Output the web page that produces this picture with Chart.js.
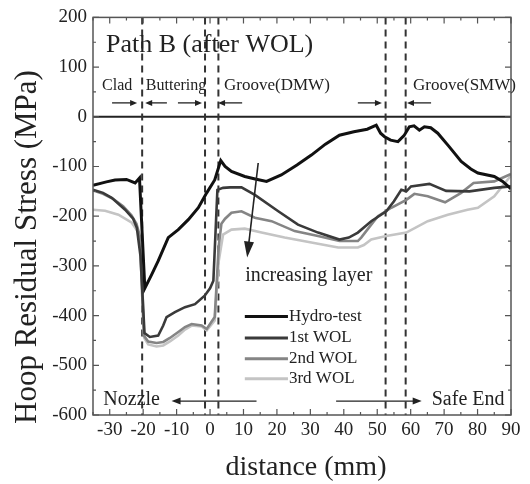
<!DOCTYPE html>
<html>
<head>
<meta charset="utf-8">
<script src="https://cdn.jsdelivr.net/npm/chart.js@4.4.1/dist/chart.umd.min.js"></script>
<style>
html, body { margin: 0; padding: 0; background: #fff; }
#wrap { width: 530px; height: 484px; position: relative; }
</style>
</head>
<body>
<div id="wrap"><canvas id="chart"></canvas></div>
<script>
// distance (mm) and hoop residual stress (MPa)
const hydroX = [-35, -31, -28.4, -25, -22.4, -21.1, -19.5, -17.5, -15.5, -12.5, -9.5, -6.5, -3.5, -1, 1.4, 3.2, 4.5, 6.4, 10.4, 13.5, 16.9, 21.3, 26, 30.3, 34.5, 38.7, 43, 47, 49.7, 51, 52.2, 54, 56.2, 58, 59.6, 61, 62.6, 64.1, 66, 68.1, 71.5, 75.1, 78, 80.1, 85, 87.5, 90];
const hydroY = [-138, -131, -127, -126, -133, -123, -345, -318, -290, -243, -227, -207, -183, -153, -127, -88, -100, -110, -120, -125, -130, -117, -97, -77, -55, -37, -30, -25, -17, -33, -40, -47, -50, -38, -20, -18, -27, -20, -22, -33, -60, -90, -105, -113, -120, -130, -145];

const wol1X = [-35, -32, -29.4, -25.4, -23, -21.9, -20.8, -19.6, -18, -15.5, -14, -13, -10.5, -7.5, -4.5, -1.6, 0, 1, 2.2, 3.9, 6, 9.4, 13.4, 20.4, 26.3, 32.3, 38.7, 41.5, 44.2, 48.2, 52.7, 55, 57.2, 58.7, 60.1, 65.6, 70.6, 77.6, 85, 90];
const wol1Y = [-147, -153, -163, -187, -205, -223, -280, -435, -443, -440, -420, -403, -393, -383, -377, -360, -345, -330, -147, -143, -142, -142, -157, -190, -217, -233, -247, -243, -233, -210, -190, -170, -147, -150, -140, -135, -149, -150, -143, -140];

const wol2X = [-35, -32, -29, -26, -23.5, -22, -21, -19.8, -18.5, -16, -14, -12, -9.5, -7.5, -5.5, -2.5, -1, 1.4, 2.6, 3.4, 4.5, 6.4, 9.4, 13.4, 18.4, 25.3, 32.3, 38.7, 44.2, 45.2, 48.2, 50.2, 54.2, 58.7, 61.1, 65.1, 70.3, 75.1, 78.8, 85, 90];
const wol2Y = [-148, -155, -165, -180, -198, -215, -240, -440, -452, -455, -453, -445, -433, -423, -417, -420, -427, -403, -260, -215, -205, -193, -190, -203, -210, -230, -240, -250, -250, -243, -217, -200, -183, -167, -155, -160, -172, -153, -133, -130, -115];

const wol3X = [-35, -31.4, -27.4, -23.4, -21.4, -20.6, -19.7, -18.5, -16, -14, -12, -9.5, -7.5, -5.5, -2.5, -1, 1.4, 2.6, 3.9, 6.4, 10.4, 15.4, 22.3, 30.3, 38.3, 44.2, 46, 48.2, 52.7, 58.7, 65.1, 71.1, 77, 80.1, 85, 90];
const wol3Y = [-187, -189, -197, -213, -233, -270, -445, -458, -462, -460, -452, -440, -428, -420, -422, -430, -410, -290, -237, -227, -225, -233, -243, -253, -263, -263, -258, -247, -240, -233, -210, -197, -187, -183, -160, -118];

const seriesNames = ['Hydro-test', '1st WOL', '2nd WOL', '3rd WOL'];
const xTicks = [-30, -20, -10, 0, 10, 20, 30, 40, 50, 60, 70, 80, 90];
const yTicks = [-600, -500, -400, -300, -200, -100, 0, 100, 200];
// region boundaries (mm)
const boundaryX = [-20.3, -1.5, 2.5, 52.5, 58.5];

const lineColors = ['#111111', '#3a3a3a', '#858585', '#c4c4c4'];
const serif = "'Liberation Serif', 'Times New Roman', serif";

function pairs(xs, ys) {
    return xs.map((x, i) => ({ x: x, y: ys[i] }));
}

// annotation layout in data units (mm, MPa)
const labels = [
    { text: 'Path B (after WOL)', x: -31.1, y: 144, size: 26 },
    { text: 'Clad', x: -32.3, y: 62, size: 16 },
    { text: 'Buttering', x: -19.2, y: 62, size: 16 },
    { text: 'Groove(DMW)', x: 4.2, y: 62, size: 17 },
    { text: 'Groove(SMW)', x: 60.7, y: 62, size: 17 },
    { text: 'increasing layer', x: 10.5, y: -320, size: 20 },
    { text: 'Nozzle', x: -31.9, y: -570, size: 20 },
    { text: 'Safe End', x: 66.3, y: -570, size: 20 }
];
const smallArrows = [
    [-29.3, -21.8], [-12.9, -19.4], [-9.6, -2.4], [9.6, 2.4], [44.2, 51.4], [66.1, 58.9]
];

function drawArrow(ctx, x1, y1, x2, y2, len, half) {
    const a = Math.atan2(y2 - y1, x2 - x1);
    ctx.beginPath();
    ctx.moveTo(x1, y1);
    ctx.lineTo(x2 - Math.cos(a) * len * 0.6, y2 - Math.sin(a) * len * 0.6);
    ctx.stroke();
    ctx.beginPath();
    ctx.moveTo(x2, y2);
    ctx.lineTo(x2 - Math.cos(a) * len - Math.sin(a) * half, y2 - Math.sin(a) * len + Math.cos(a) * half);
    ctx.lineTo(x2 - Math.cos(a) * len + Math.sin(a) * half, y2 - Math.sin(a) * len - Math.cos(a) * half);
    ctx.closePath();
    ctx.fill();
}

const decor = {
    id: 'decor',
    beforeDatasetsDraw(chart) {
        const ctx = chart.ctx;
        const xs = chart.scales.x, ys = chart.scales.y;
        const area = chart.chartArea;
        ctx.save();
        ctx.strokeStyle = '#222';
        ctx.lineWidth = 2;
        ctx.beginPath();
        ctx.moveTo(area.left, ys.getPixelForValue(0));
        ctx.lineTo(area.right, ys.getPixelForValue(0));
        ctx.stroke();
        ctx.strokeStyle = '#333';
        ctx.setLineDash([7, 5]);
        boundaryX.forEach(b => {
            const p = xs.getPixelForValue(b);
            ctx.beginPath();
            ctx.moveTo(p, area.top);
            ctx.lineTo(p, area.bottom);
            ctx.stroke();
        });
        ctx.restore();
    },
    afterDraw(chart) {
        const ctx = chart.ctx;
        const xs = chart.scales.x, ys = chart.scales.y;
        const area = chart.chartArea;
        const px = v => xs.getPixelForValue(v);
        const py = v => ys.getPixelForValue(v);
        ctx.save();

        // frame and inward ticks
        ctx.strokeStyle = '#555';
        ctx.lineWidth = 1.5;
        ctx.strokeRect(area.left, area.top, area.right - area.left, area.bottom - area.top);
        ctx.lineWidth = 1.2;
        for (let v = -35; v <= 90; v += 5) {
            const len = v % 10 === 0 ? 6 : 3;
            const p = px(v);
            ctx.beginPath();
            ctx.moveTo(p, area.bottom); ctx.lineTo(p, area.bottom - len);
            ctx.moveTo(p, area.top); ctx.lineTo(p, area.top + len);
            ctx.stroke();
        }
        for (let v = -600; v <= 200; v += 50) {
            const len = v % 100 === 0 ? 6 : 3;
            const p = py(v);
            ctx.beginPath();
            ctx.moveTo(area.left, p); ctx.lineTo(area.left + len, p);
            ctx.moveTo(area.right, p); ctx.lineTo(area.right - len, p);
            ctx.stroke();
        }

        // text labels
        ctx.fillStyle = '#222';
        ctx.textBaseline = 'middle';
        ctx.textAlign = 'left';
        labels.forEach(l => {
            ctx.font = l.size + 'px ' + serif;
            ctx.fillText(l.text, px(l.x), py(l.y));
        });

        // region arrows
        ctx.strokeStyle = '#222';
        ctx.fillStyle = '#222';
        ctx.lineWidth = 1.3;
        smallArrows.forEach(a => drawArrow(ctx, px(a[0]), py(28), px(a[1]), py(28), 7, 3));
        drawArrow(ctx, px(13.9), py(-572), px(-11.5), py(-572), 9, 3.5);
        drawArrow(ctx, px(37.7), py(-572), px(63.3), py(-572), 9, 3.5);
        ctx.lineWidth = 1.6;
        drawArrow(ctx, px(14.4), py(-93), px(11.1), py(-283), 16, 5);

        // legend
        const legendY = [-402, -445, -487, -527];
        ctx.font = '17px ' + serif;
        seriesNames.forEach((name, i) => {
            ctx.strokeStyle = lineColors[i];
            ctx.lineWidth = 3;
            ctx.beginPath();
            ctx.moveTo(px(10.4), py(legendY[i]));
            ctx.lineTo(px(23.3), py(legendY[i]));
            ctx.stroke();
            ctx.fillStyle = '#222';
            ctx.fillText(name, px(23.6), py(legendY[i]));
        });

        // axis titles
        ctx.textAlign = 'center';
        ctx.font = '28px ' + serif;
        ctx.fillText('distance (mm)', 306, 468);
        ctx.translate(28, 247);
        ctx.rotate(-Math.PI / 2);
        ctx.font = '31px ' + serif;
        ctx.fillText('Hoop Residual Stress (MPa)', 0, 0);
        ctx.restore();
    }
};

function buildDatasets() {
    const xsList = [hydroX, wol1X, wol2X, wol3X];
    const ysList = [hydroY, wol1Y, wol2Y, wol3Y];
    return seriesNames.map((name, i) => ({
        label: name,
        data: pairs(xsList[i], ysList[i]),
        borderColor: lineColors[i],
        backgroundColor: lineColors[i],
        borderWidth: i === 0 ? 3 : 2.6,
        pointRadius: 0,
        tension: 0,
        fill: false
    }));
}

Chart.defaults.font.family = serif;
Chart.defaults.color = '#222';

const chartCtx = document.getElementById('chart').getContext('2d');
const chart = new Chart(chartCtx, {
    type: 'line',
    data: { datasets: buildDatasets() },
    options: {
        responsive: true,
        maintainAspectRatio: false,
        animation: false,
        layout: { padding: { top: 15, right: 19, left: 0, bottom: 0 } },
        plugins: { legend: { display: false }, tooltip: { enabled: false } },
        scales: {
            x: {
                type: 'linear',
                min: -35,
                max: 90,
                grid: { display: false, drawTicks: false },
                border: { display: false },
                afterBuildTicks: s => { s.ticks = xTicks.map(v => ({ value: v })); },
                afterFit: s => { s.height = 69; },
                ticks: { font: { size: 19 }, padding: 4, maxRotation: 0 }
            },
            y: {
                min: -600,
                max: 200,
                grid: { display: false, drawTicks: false },
                border: { display: false },
                afterBuildTicks: s => { s.ticks = yTicks.map(v => ({ value: v })); },
                afterFit: s => { s.width = 93; },
                ticks: { font: { size: 19 }, padding: 6 }
            }
        }
    },
    plugins: [decor]
});
</script>
</body>
</html>
